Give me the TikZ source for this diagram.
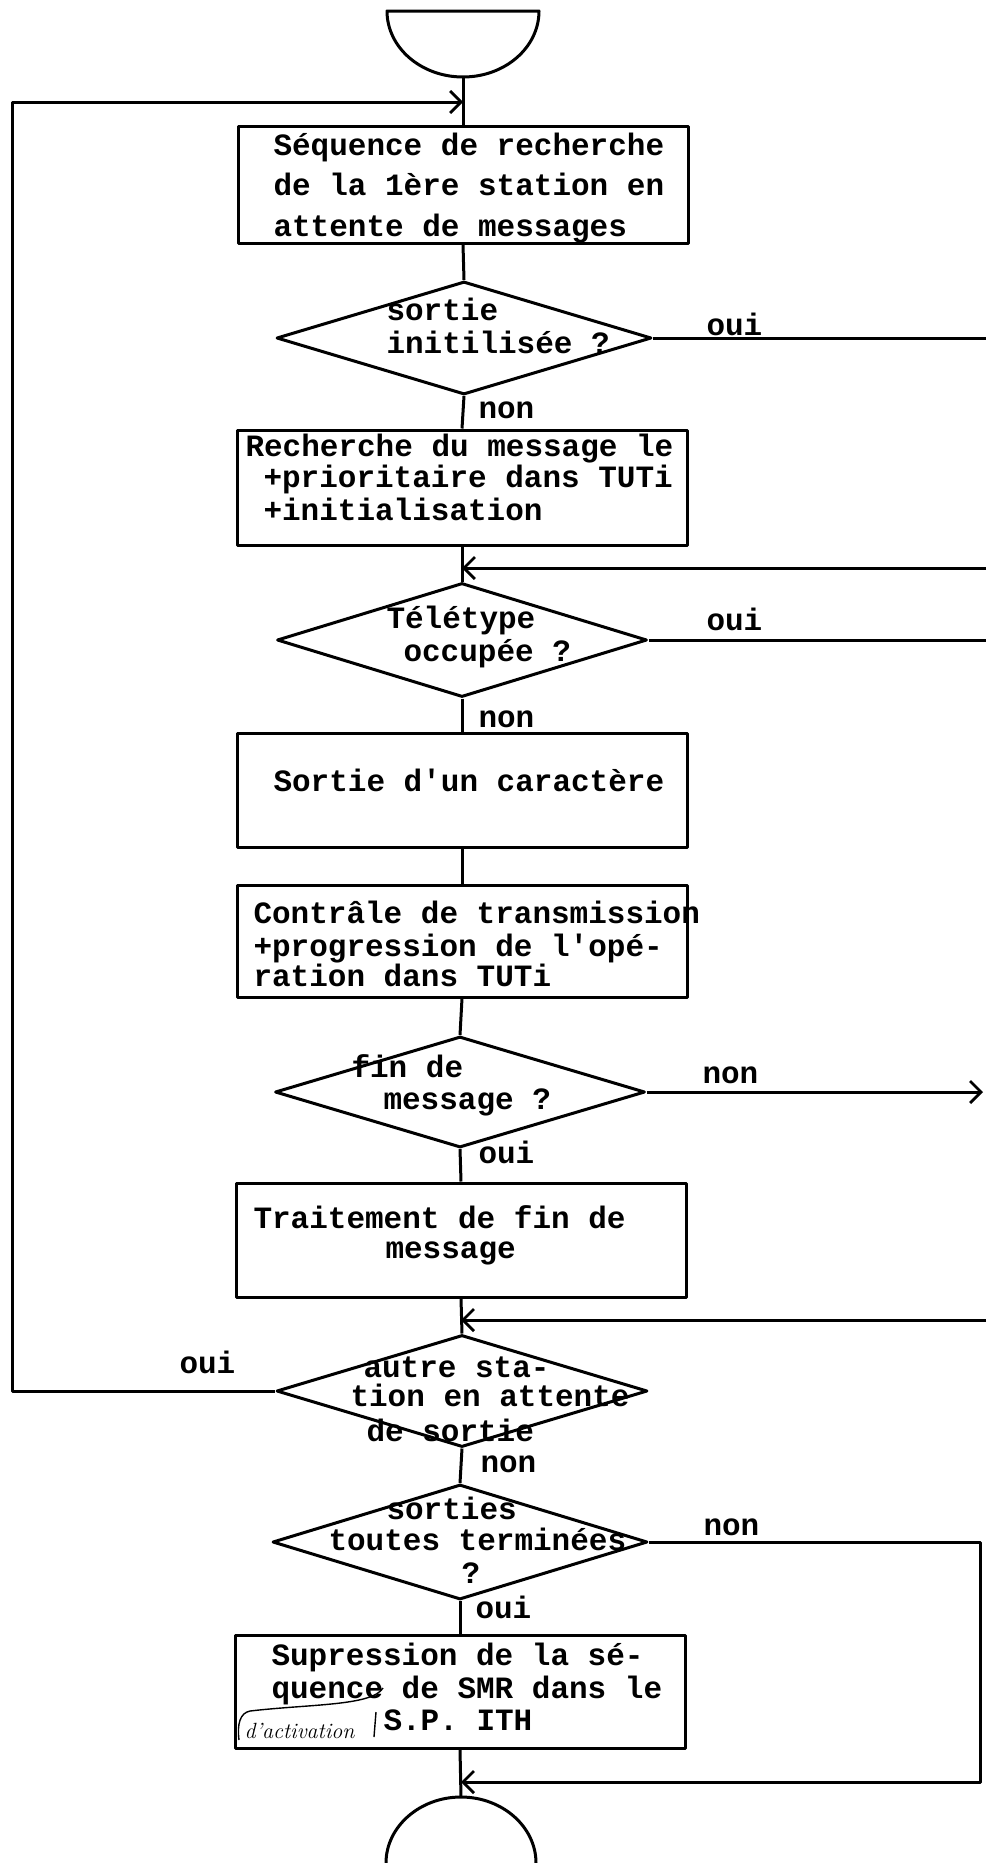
\documentclass[tikz,border=0pt]{standalone}
\usepackage{fontspec}
\usetikzlibrary{arrows.meta,shapes.geometric,calc}
\newfontfamily\tw{Liberation Mono}
\begin{document}
\begin{tikzpicture}[x=1pt,y=-1pt,
  line width=3pt, line join=round,
  box/.style={draw, rectangle, minimum width=450pt, inner sep=0pt},
  dec/.style={draw, diamond, inner sep=0pt},
  txt/.style={anchor=base west, inner sep=0pt, font=\tw\bfseries\fontsize{31}{36}\selectfont},
  hand/.style={anchor=base west, inner sep=0pt, font=\itshape\fontsize{22}{24}\selectfont},
  arr/.style={-{Straight Barb[length=11pt,width=22pt,line width=2.8pt]}},
]
\useasboundingbox[fill=white] (0,0) rectangle (986,1863);

% boxes
\node[box, minimum height=117pt] (b1) at (463,184.5) {};
\node[box, minimum height=115pt] (b2) at (462,487.5) {};
\node[box, minimum height=114pt] (b3) at (462,790) {};
\node[box, minimum height=112pt] (b4) at (462,941) {};
\node[box, minimum height=114pt] (b5) at (461,1240) {};
\node[box, minimum height=113pt] (b6) at (460,1691.5) {};

% decisions
\node[dec, minimum width=375pt, minimum height=113pt] (d1) at (464,338) {};
\node[dec, minimum width=370pt, minimum height=114pt] (d2) at (462,640) {};
\node[dec, minimum width=370pt, minimum height=111pt] (d3) at (460,1092) {};
\node[dec, minimum width=371pt, minimum height=112pt] (d4) at (462,1391) {};
\node[dec, minimum width=375pt, minimum height=115pt] (d5) at (460,1542) {};

% terminals
\coordinate (s) at (463,77);
\draw (539,11) -- (387,11) .. controls (387,47.5) and (421,77) .. (s) .. controls (505,77) and (539,47.5) .. (539,11) -- cycle;
\coordinate (e) at (461,1797);
\draw (386,1863) .. controls (386,1826.5) and (420,1797) .. (e) .. controls (502,1797) and (536,1826.5) .. (536,1863);

% helper coordinates
\coordinate (j0) at (463,102);
\coordinate (j1) at (462,568);
\coordinate (j3) at (461,1320);
\coordinate (j5) at (461,1782);
\coordinate (rx) at (986,0);
\coordinate (rx2) at (980,0);
\coordinate (lx) at (12,0);
\coordinate (r3) at (983,1092);

% connectors
\draw (s) -- (b1.north);
\draw[arr] (d4.west) -- (d4.west -| lx) |- (j0);
\draw (b1.south) -- (d1.north);
\draw (d1.south) -- (b2.north);
\draw (d1.east) -- (d1.east -| rx);
\draw (b2.south) -- (d2.north);
\draw[arr] (j1 -| rx) -- (j1);
\draw (d2.east) -- (d2.east -| rx);
\draw (d2.south) -- (b3.north);
\draw (b3.south) -- (b4.north);
\draw (b4.south) -- (d3.north);
\draw[arr] (d3.east) -- (r3);
\draw (d3.south) -- (b5.north);
\draw (b5.south) -- (d4.north);
\draw[arr] (j3 -| rx) -- (j3);
\draw (d4.south) -- (d5.north);
\draw[arr] (d5.east) -- (d5.east -| rx2) |- (j5);
\draw (d5.south) -- (b6.north);
\draw (b6.south) -- (e);

% texts box 1
\node[txt] (t1a) at (272,155) {Séquence de recherche};
\node[txt] (t1b) at (272,195) {de la 1ère station en};
\node[txt] (t1c) at (272,236) {attente de messages};
% diamond 1
\node[txt] (t2a) at (385,320) {sortie};
\node[txt] (t2b) at (385,353) {initilisée ?};
% box 2
\node[txt] (t3a) at (244,456) {Recherche du message le};
\node[txt] (t3b) at (262,487) {+prioritaire dans TUTi};
\node[txt] (t3c) at (262,520) {+initialisation};
% diamond 2
\node[txt] (t4a) at (385,628) {Télétype};
\node[txt] (t4b) at (402,661) {occupée ?};
% box 3
\node[txt] (t5a) at (272,791) {Sortie d'un caractère};
% box 4
\node[txt] (t6a) at (252,923) {Contrâle de transmission};
\node[txt] (t6b) at (252,956) {+progression de l'opé-};
\node[txt] (t6c) at (252,986) {ration dans TUTi};
% diamond 3
\node[txt] (t7a) at (350,1077) {fin de};
\node[txt] (t7b) at (382,1109) {message ?};
% box 5
\node[txt] (t8a) at (252,1228) {Traitement de fin de};
\node[txt] (t8b) at (384,1258) {message};
% diamond 4
\node[txt] (t9a) at (362,1377) {autre sta-};
\node[txt] (t9b) at (349,1406) {tion en attente};
\node[txt] (t9c) at (365,1441) {de sortie};
% diamond 5
\node[txt] (t10a) at (385,1519) {sorties};
\node[txt] (t10b) at (327,1550) {toutes terminées};
\node[txt] (t10c) at (460,1583) {?};
% box 6
\node[txt] (t11a) at (270,1665) {Supression de la sé-};
\node[txt] (t11b) at (270,1698) {quence de SMR dans le};
\node[txt] (t11c) at (382,1730) {S.P. ITH};
\node[hand] (t11d) at (243,1738) {d'activation};
\draw[line width=1.4pt] (383,1688) .. controls (372,1706) and (310,1704) .. (250,1711) .. controls (240,1713) and (237,1724) .. (239,1740);
\draw[line width=1.4pt] (376,1712) -- (374,1737);

% labels
\node[txt] (l1) at (705,335) {oui};
\node[txt] (l2) at (477,418) {non};
\node[txt] (l3) at (705,630) {oui};
\node[txt] (l4) at (477,727) {non};
\node[txt] (l5) at (701,1083) {non};
\node[txt] (l6) at (477,1163) {oui};
\node[txt] (l7) at (178,1373) {oui};
\node[txt] (l8) at (479,1472) {non};
\node[txt] (l9) at (702,1535) {non};
\node[txt] (l10) at (474,1618) {oui};
\end{tikzpicture}
\end{document}
